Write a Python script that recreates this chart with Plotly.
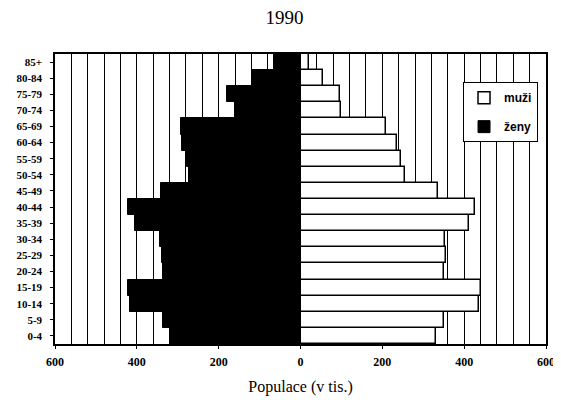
import plotly.graph_objects as go

categories = ["0-4", "5-9", "10-14", "15-19", "20-24", "25-29", "30-34", "35-39",
              "40-44", "45-49", "50-54", "55-59", "60-64", "65-69", "70-74",
              "75-79", "80-84", "85+"]
muzi = [331, 350, 437, 441, 350, 355, 354, 411, 427, 335, 255, 245, 237, 210,
        100, 97, 54, 20]
zeny = [319, 336, 417, 421, 336, 338, 343, 404, 421, 342, 272, 277, 290, 292,
        159, 179, 118, 64]
tick_vals = [-600, -400, -200, 0, 200, 400, 600]
tick_text = ["600", "400", "200", "0", "200", "400", "600"]

fig = go.Figure()
fig.add_trace(go.Bar(
    y=categories, x=muzi, orientation="h", name="muži", legendgroup="m",
    marker=dict(color="white", line=dict(color="black", width=1.5)),
))
fig.add_trace(go.Bar(
    y=categories, x=[-v for v in zeny], orientation="h", name="ženy", legendgroup="z",
    marker=dict(color="black", line=dict(color="black", width=1)),
))

fig.update_layout(
    width=553, height=396,
    margin=dict(l=47, r=15, t=46, b=60, autoexpand=False),
    paper_bgcolor="white", plot_bgcolor="white",
    barmode="relative", bargap=0.0,
    title=dict(text="1990", x=0.5, xanchor="center", y=0.977, yref="container",
               yanchor="middle",
               font=dict(family="Liberation Serif", size=19, color="black")),
    legend=dict(x=0.831, y=0.903, xanchor="left", yanchor="top",
                bgcolor="white", bordercolor="black", borderwidth=1,
                font=dict(family="Liberation Sans", size=12, color="black", weight="bold"),
                itemwidth=30, tracegroupgap=10, traceorder="grouped"),
    font=dict(family="Liberation Serif", color="black"),
    xaxis=dict(
        range=[-600, 600], tickvals=tick_vals, ticktext=tick_text,
        automargin=False,
        tickfont=dict(family="Liberation Serif", size=12, color="black", weight="bold"),
        showgrid=True, gridcolor="black", gridwidth=1,
        minor=dict(dtick=40, tick0=0, showgrid=True, gridcolor="black", gridwidth=1),
        zeroline=False,
        showline=True, linecolor="black", linewidth=1.5, mirror=True,
        ticks="outside", ticklen=3, tickcolor="black", ticklabelstandoff=3,
        title=dict(text="Populace (v tis.)", standoff=13,
                   font=dict(family="Liberation Serif", size=16, color="black")),
    ),
    yaxis=dict(
        categoryorder="array", categoryarray=categories,
        automargin=False,
        tickfont=dict(family="Liberation Serif", size=11, color="black", weight="bold"),
        showline=True, linecolor="black", linewidth=1.5, mirror=True,
        ticks="outside", ticklen=3, tickcolor="black", ticklabelstandoff=6,
        showgrid=False,
    ),
)

fig.write_html("out.html")
